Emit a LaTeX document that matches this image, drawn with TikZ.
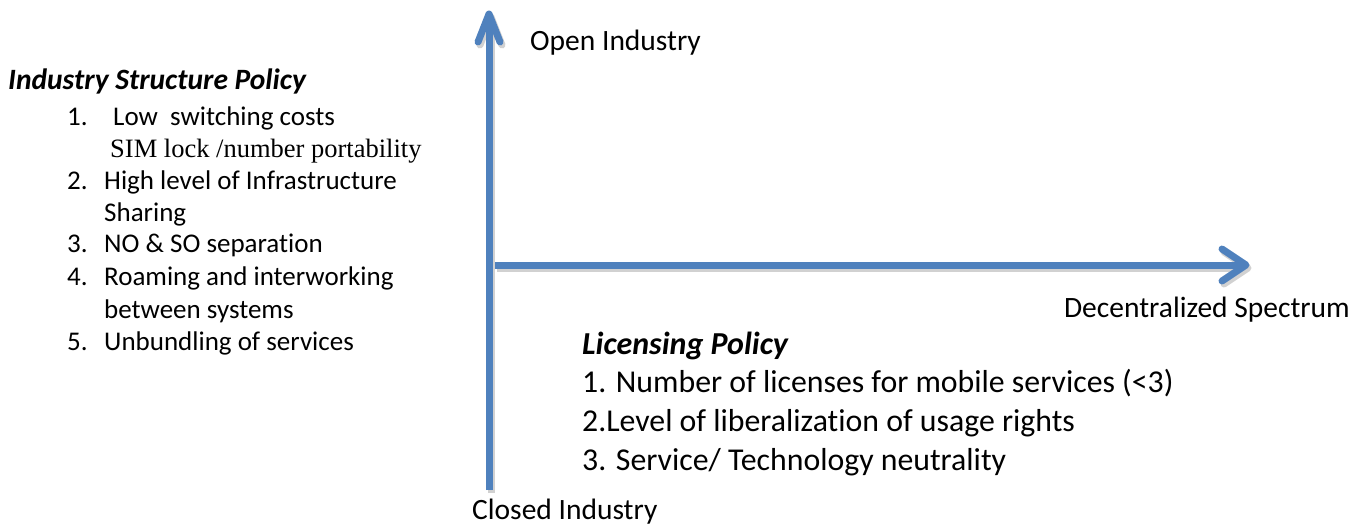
\documentclass[tikz,border=0pt]{standalone}
\usepackage{fontspec}
\setmainfont{Carlito}[Ligatures=NoCommon]
\newfontfamily\timesfont{Liberation Serif}
\begin{document}
\begin{tikzpicture}[x=1pt,y=-1pt,
  axisline/.style={line width=7pt,draw=axisblue},
  axisshadow/.style={line width=7pt,draw=black!18},
  tiphead/.style={line width=7pt,draw=axisblue,line cap=round,line join=round},
  tipshadow/.style={line width=7pt,draw=black!18,line cap=round,line join=round},
  txt/.style={anchor=west,inner sep=0pt,text height=0.72em,text depth=0.22em,yshift=-7pt},
  lbl/.style={txt,font=\fontsize{27}{32}\selectfont},
  biglbl/.style={txt,font=\fontsize{29.5}{35}\selectfont},
  lplbl/.style={txt,font=\fontsize{31.8}{38}\selectfont},
  head/.style={txt,font=\fontsize{29.5}{35}\selectfont\bfseries\itshape},
  bighead/.style={txt,font=\fontsize{32}{38}\selectfont\bfseries\itshape}]
\definecolor{axisblue}{HTML}{4F81BD}
\useasboundingbox (0,0) rectangle (1360,525);

% named end points of the two axes
\coordinate (vbot) at (489,490);
\coordinate (vtop) at (489,14);
\coordinate (hleft) at (495,265);
\coordinate (hright) at (1246,265);

% shadows
\draw[axisshadow] ([shift={(2,3)}]vbot) -- ([shift={(2,3)}]vtop);
\draw[tipshadow] ([shift={(-9,31)}]vtop) -- ([shift={(2,3)}]vtop) -- ([shift={(13,31)}]vtop);
\draw[axisshadow] ([shift={(2,3)}]hleft) -- ([shift={(2,3)}]hright);
\draw[tipshadow] ([shift={(-22,-13)}]hright) -- ([shift={(2,3)}]hright) -- ([shift={(-22,19)}]hright);

% vertical axis
\draw[axisline] (vbot) -- (vtop);
\draw[tiphead] ([shift={(-11,28)}]vtop) -- (vtop) -- ([shift={(11,28)}]vtop);
% horizontal axis
\draw[axisline] (hleft) -- (hright);
\draw[tiphead] ([shift={(-24,-16)}]hright) -- (hright) -- ([shift={(-24,16)}]hright);

% axis labels
\node[biglbl] (open) at (530,41) {Open Industry};
\node[biglbl] (closed) at (472,510) {Closed Industry};
\node[biglbl,anchor=east] (decent) at (1350,308) {Decentralized Spectrum};

% industry structure policy
\node[head] (ishead) at (8,80) {Industry Structure Policy};
\node[lbl] (n1) at (67,116) {1.};
\node[lbl] (i1) at (113,116) {Low\ \ switching costs};
\node[lbl,font=\fontsize{26.5}{32}\selectfont\timesfont] (i1b) at (110,148) {SIM lock /number portability};
\node[lbl] (n2) at (67,180) {2.};
\node[lbl] (i2) at (104,180) {High level of Infrastructure};
\node[lbl] (i2b) at (104,212) {Sharing};
\node[lbl] (n3) at (67,243) {3.};
\node[lbl] (i3) at (104,243) {NO \& SO separation};
\node[lbl] (n4) at (67,276) {4.};
\node[lbl] (i4) at (104,276) {Roaming and interworking};
\node[lbl] (i4b) at (104,309) {between systems};
\node[lbl] (n5) at (67,341) {5.};
\node[lbl] (i5) at (104,341) {Unbundling of services};

% licensing policy
\node[bighead] (lphead) at (582,345) {Licensing Policy};
\node[lplbl] (l1) at (582,383) {1. Number of licenses for mobile services (<3)};
\node[lplbl] (l2) at (582,422) {2.Level of liberalization of usage rights};
\node[lplbl] (l3) at (582,461) {3. Service/ Technology neutrality};
\end{tikzpicture}
\end{document}
